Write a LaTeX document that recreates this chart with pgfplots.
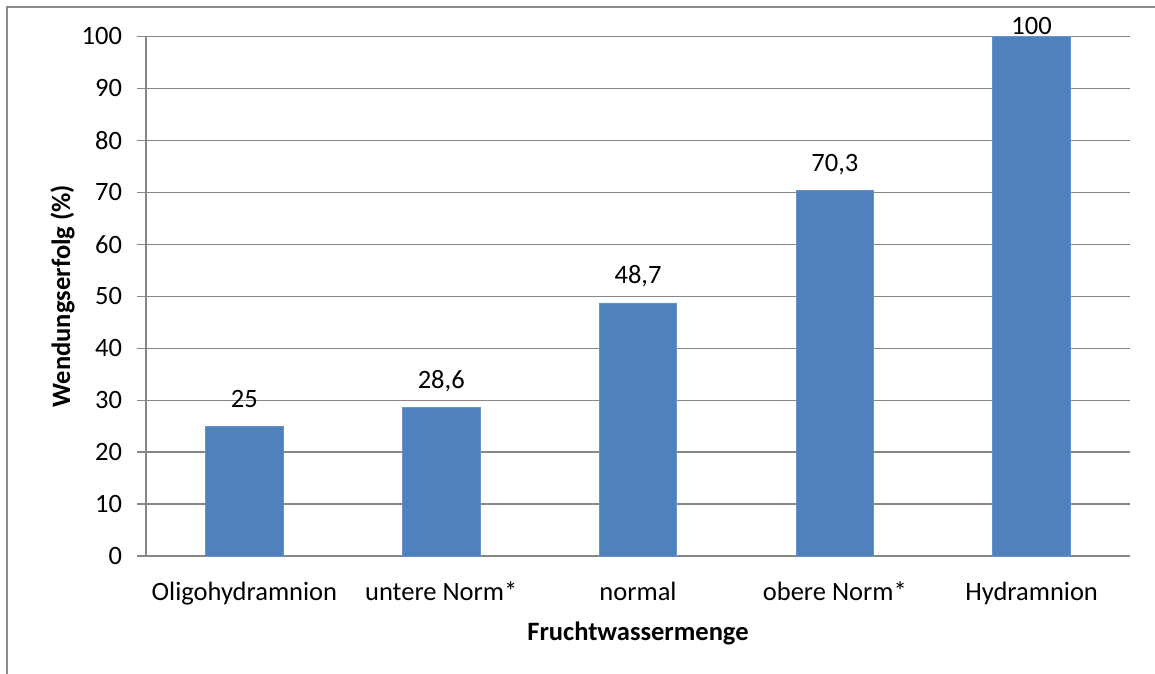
\documentclass[border=0pt]{standalone}
\usepackage{pgfplots}
\pgfplotsset{compat=1.18}
\usepackage{pgfplotstable}
\usepackage{fontspec}
\setmainfont{Carlito}

\definecolor{barblue}{HTML}{4F81BD}
\definecolor{baredge}{HTML}{6A92C8}
\definecolor{gridgray}{HTML}{868686}
\definecolor{framegray}{HTML}{8C8C8C}

% x: category index, y: success rate in %, dy: label offset above bar (bp)
\pgfplotstableread{
x y    dy
0 25   9.5
1 28.6 9.5
2 48.7 9.5
3 70.3 9.5
4 100  1
}\wendung

\newcommand{\chartfont}{\fontsize{13.3}{16}\selectfont}

\begin{document}
\begin{tikzpicture}[x=0.5bp,y=0.5bp]
\useasboundingbox (0,0) rectangle (1155,673);
\clip (0,0) rectangle (1155,673);
\fill[white] (0,0) rectangle (1155,673);
% chart frame
\draw[framegray, line width=0.7bp] (7,-40) -- (7,666) -- (1200,666);

\begin{axis}[
  at={(73bp,58.5bp)}, anchor=south west,
  scale only axis, width=492bp, height=259.75bp,
  xmin=-0.5, xmax=4.5, ymin=0, ymax=100,
  ytick={0,10,...,100},
  xtick={0,1,2,3,4},
  xticklabels={Oligohydramnion, untere Norm*, normal, obere Norm*, Hydramnion},
  axis x line*=bottom, axis y line*=left,
  axis line style={draw=gridgray, line width=0.6bp, -},
  ymajorgrids, grid style={draw=gridgray, line width=0.6bp},
  tick align=outside, major tick length=4.5bp,
  xtick style={draw=none},
  ytick style={draw=gridgray, line width=0.6bp},
  ticklabel style={font=\chartfont},
  xticklabel style={anchor=base, yshift=-17.5bp},
  yticklabel style={anchor=east, xshift=-4bp},
  /pgf/number format/assume math mode=true,
  ybar, bar width=38.8bp,
  clip=false,
]
\addplot[fill=barblue, draw=baredge, line width=0.4bp,
  visualization depends on={\thisrow{dy} \as \dy},
  nodes near coords={\pgfmathprintnumber[use comma,assume math mode=true]{\pgfplotspointmeta}},
  every node near coord/.style={anchor=base, inner sep=0pt, yshift=\dy bp, font=\chartfont, text=black},
] table[x=x, y=y] {\wendung};
\end{axis}

\node[font=\chartfont\bfseries, anchor=base] at (638,33) {Fruchtwassermenge};
\node[font=\chartfont\bfseries, rotate=90, anchor=base] at (70,377) {Wendungserfolg (\%)};
\end{tikzpicture}
\end{document}
